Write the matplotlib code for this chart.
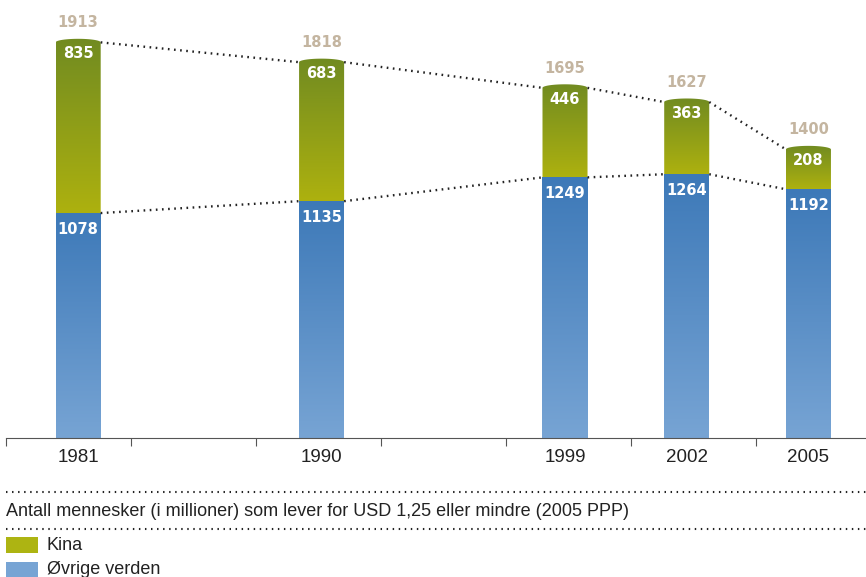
import numpy as np
import matplotlib.pyplot as plt
from matplotlib.patches import Polygon, Rectangle
from matplotlib.colors import to_rgb

# data
years = ['1981', '1990', '1999', '2002', '2005']
slots = [0, 2, 4, 5, 6]
ovrige = [1078, 1135, 1249, 1264, 1192]
kina = [835, 683, 446, 363, 208]
totals = [1913, 1818, 1695, 1627, 1400]
tick_edges = [-0.593, 0.434, 1.461, 2.488, 3.516, 4.543, 5.570]

title_txt = 'Antall mennesker (i millioner) som lever for USD 1,25 eller mindre (2005 PPP)'
legend_labels = ['Kina', 'Øvrige verden']

blue_top, blue_bot = '#3d79b8', '#77a4d4'
green_top, green_bot = '#718b21', '#adb10f'
tan = '#c4b5a0'
dark = '#222222'

w = 0.37      # bar width in slot units
cap = 17      # height of the rounded cap in data units


def grad_fill(ax, verts, x0, x1, y0, y1, ctop, cbot):
    poly = Polygon(verts, closed=True, facecolor='none', edgecolor='none')
    ax.add_patch(poly)
    c0, c1 = np.array(to_rgb(cbot)), np.array(to_rgb(ctop))
    t = np.linspace(0, 1, 256)[:, None, None]
    img = c0 + (c1 - c0) * t
    im = ax.imshow(img, extent=(x0, x1, y0, y1), origin='lower',
                   aspect='auto', interpolation='bilinear')
    im.set_clip_path(poly)


fig = plt.figure(figsize=(8.66, 5.77), dpi=100)
ax = fig.add_axes([6 / 866, 139 / 577, 860 / 866, 438 / 577])

theta = np.linspace(0, np.pi, 40)
for s, b, k, tot in zip(slots, ovrige, kina, totals):
    x0, x1 = s - w / 2, s + w / 2
    # blue part
    grad_fill(ax, [(x0, 0), (x1, 0), (x1, b), (x0, b)], x0, x1, 0, b,
              blue_top, blue_bot)
    # green part with rounded top
    arc = [(s + w / 2 * np.cos(a), tot - cap + cap * np.sin(a)) for a in theta]
    verts = [(x0, b), (x1, b)] + arc
    grad_fill(ax, verts, x0, x1, b, tot, green_top, green_bot)

    ax.annotate(str(b), (s, b), xytext=(0, -16), textcoords='offset pixels',
                ha='center', va='center', color='white', fontsize=10.5,
                fontweight='bold')
    ax.annotate(str(k), (s, tot), xytext=(0, -15), textcoords='offset pixels',
                ha='center', va='center', color='white', fontsize=10.5,
                fontweight='bold')
    ax.annotate(str(tot), (s, tot), xytext=(0, 16), textcoords='offset pixels',
                ha='center', va='center', color=tan, fontsize=10.5,
                fontweight='bold', annotation_clip=False)

# dotted connectors
for i in range(len(slots) - 1):
    xa, xb = slots[i] + w / 2, slots[i + 1] - w / 2
    ax.plot([xa, xb], [totals[i] - cap, totals[i + 1] - cap], color=dark,
            lw=1.7, ls=(0, (0.7, 1.9)))
    ax.plot([xa, xb], [ovrige[i], ovrige[i + 1]], color=dark,
            lw=1.7, ls=(0, (0.7, 1.9)))

ax.set_xlim(-0.593, 6.473)
ax.set_ylim(0, 2099)
for sp in ['top', 'right', 'left']:
    ax.spines[sp].set_visible(False)
ax.spines['bottom'].set_color('#555555')
ax.set_yticks([])
ax.set_xticks(tick_edges)
ax.set_xticklabels([])
ax.tick_params(axis='x', which='major', length=6, color='#555555')
ax.set_xticks(slots, minor=True)
ax.set_xticklabels(years, minor=True, fontsize=13.5, family='Liberation Sans',
                   color=dark)
ax.tick_params(axis='x', which='minor', length=0, pad=8)

# legend area (pixel coordinates, y downwards)
lax = fig.add_axes([0, 0, 1, 139 / 577])
lax.set_xlim(0, 866)
lax.set_ylim(577, 438)
lax.axis('off')
for yy in [491.7, 529.3]:
    lax.plot([6, 866], [yy, yy], color=dark, lw=1.5, ls=(0, (0.7, 2.2)))
lax.text(6, 516, title_txt, fontsize=13, family='Liberation Sans',
         color=dark, va='baseline')
lax.add_patch(Rectangle((6, 537.3), 31.7, 15.4, color='#adb412', lw=0))
lax.add_patch(Rectangle((6, 561.7), 31.7, 16, color='#77a4d4', lw=0))
lax.text(46.7, 545, legend_labels[0], fontsize=13, family='Liberation Sans',
         color=dark, va='center')
lax.text(46.7, 570, legend_labels[1], fontsize=13, family='Liberation Sans',
         color=dark, va='center')

fig.savefig('out.png', dpi=100)
